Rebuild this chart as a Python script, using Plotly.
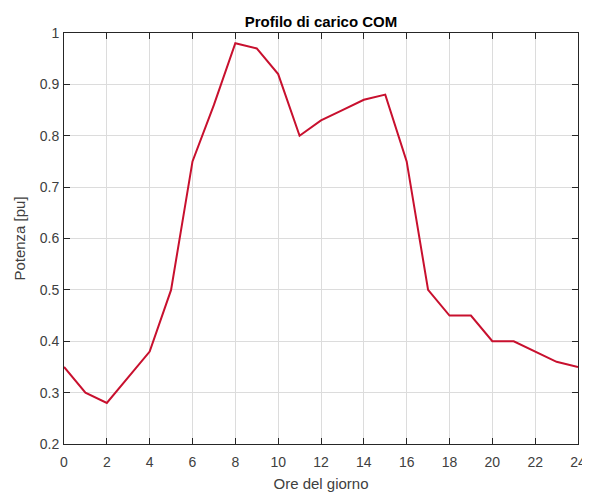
import plotly.graph_objects as go

# Profilo di carico COM - potenza oraria in p.u.
ore = list(range(25))
potenza = [0.35, 0.30, 0.28, 0.33, 0.38, 0.50, 0.75, 0.86, 0.98, 0.97,
           0.92, 0.80, 0.83, 0.85, 0.87, 0.88, 0.75, 0.50, 0.45, 0.45,
           0.40, 0.40, 0.38, 0.36, 0.35]
x_ticks = list(range(0, 25, 2))
y_ticks = [0.2, 0.3, 0.4, 0.5, 0.6, 0.7, 0.8, 0.9, 1.0]
y_labels = ["0.2", "0.3", "0.4", "0.5", "0.6", "0.7", "0.8", "0.9", "1"]

fig = go.Figure()
fig.add_trace(go.Scatter(
    x=ore,
    y=potenza,
    mode='lines',
    line=dict(color='#c8102e', width=2),
    showlegend=False
))

axis_common = dict(
    showline=True,
    linecolor='#262626',
    linewidth=1,
    mirror='ticks',
    ticks='inside',
    ticklen=6,
    tickcolor='#262626',
    showgrid=True,
    gridcolor='#dcdcdc',
    gridwidth=1,
    zeroline=False,
    automargin=False,
    layer='above traces',
    tickfont=dict(size=14, color='#404040'),
)

# page body has an 8px margin, so the figure is a bit smaller than the window
fig.update_layout(
    width=582,
    height=484,
    paper_bgcolor='white',
    plot_bgcolor='white',
    font=dict(family='Liberation Sans, Arial, sans-serif', color='#262626'),
    margin=dict(l=56, r=12, t=25, b=48),
    title=dict(text='<b>Profilo di carico COM</b>', x=0.5, xref='paper',
               xanchor='center', y=0.971, yanchor='middle',
               font=dict(size=15, color='#000000')),
    xaxis=dict(axis_common, range=[0, 24], tickvals=x_ticks,
               ticklabelstandoff=5,
               title=dict(text='Ore del giorno', standoff=9,
                          font=dict(size=15, color='#404040'))),
    yaxis=dict(axis_common, range=[0.2, 1.0], tickvals=y_ticks,
               ticktext=y_labels, ticklabelstandoff=1,
               title=dict(text='Potenza [pu]', standoff=10,
                          font=dict(size=15, color='#404040'))),
)

fig.write_html("out.html")
